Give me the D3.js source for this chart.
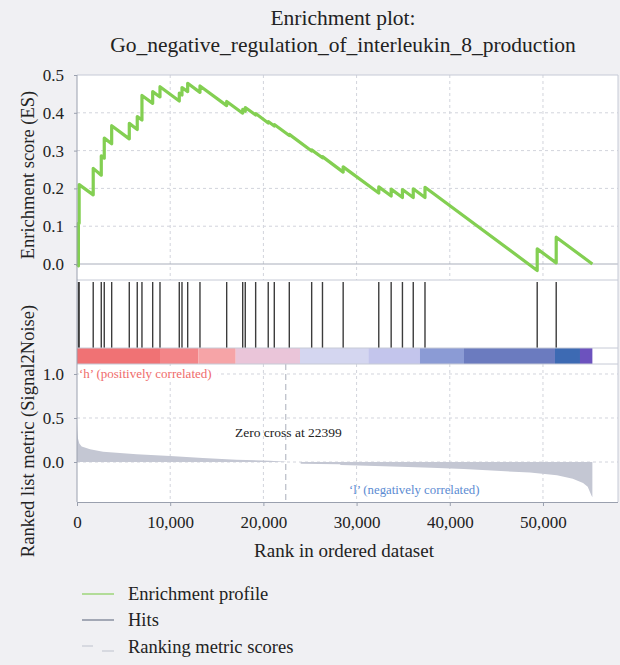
<!DOCTYPE html>
<html><head><meta charset="utf-8">
<script src="https://cdn.jsdelivr.net/npm/d3@7"></script>
<style>body{margin:0;background:#f0f0f3;} svg{display:block;}</style>
</head><body><svg id="c" width="620" height="665"></svg>
<script>
// ---------------- data ----------------
const titleLines = ["Enrichment plot:", "Go_negative_regulation_of_interleukin_8_production"];
const xTicks = [0, 10000, 20000, 30000, 40000, 50000];
const esTicks = [0.0, 0.1, 0.2, 0.3, 0.4, 0.5];
const metricTicks = [0.0, 0.5, 1.0];
const totalGenes = 55300;
const zeroCross = 22399;

const hitRanks = [150, 230, 1740, 2605, 2925, 3720, 5610, 6465, 6970, 8120, 8905, 10975, 11265, 11875, 13195,
  16060, 17780, 18055, 19170, 20520, 21170, 22780, 25180, 26340, 28560, 32380, 33710, 34920, 36080, 37340, 49380, 51420];

const esRanks = [0,150,150,230,230,1740,1740,2605,2605,2925,2925,3720,3720,5610,5610,6465,6465,6970,6970,8120,8120,
  8905,8905,10975,10975,11265,11265,11875,11875,13195,13195,16060,16060,17780,17780,18055,18055,19170,19170,
  20520,20520,21170,21170,22780,22780,25180,25180,26340,26340,28560,28560,32380,32380,33710,33710,34920,34920,
  36080,36080,37340,37340,49380,49380,51420,51420,55300];
const esValues = [0,-0.005,0.108,0.108,0.21,0.183,0.253,0.235,0.286,0.280,0.333,0.318,0.366,0.331,0.372,0.356,0.390,
  0.381,0.446,0.425,0.456,0.442,0.469,0.431,0.452,0.447,0.467,0.456,0.478,0.454,0.471,0.419,0.430,0.399,0.409,
  0.404,0.414,0.394,0.398,0.373,0.377,0.365,0.369,0.340,0.343,0.299,0.302,0.281,0.284,0.243,0.257,0.188,0.204,
  0.180,0.198,0.176,0.197,0.176,0.199,0.176,0.203,-0.017,0.040,0.003,0.071,0.0];

const metricRanks = [0, 40, 100, 250, 500, 1400, 2800, 6400, 10000, 13500, 17100, 20700, 22399, 22400, 24000,
  24001, 28200, 28300, 32000, 35500, 38000, 41500, 45000, 48600, 51500, 53200, 54300, 54800, 55200, 55300];
const metricValues = [0.46, 0.36, 0.27, 0.21, 0.175, 0.145, 0.117, 0.087, 0.068, 0.045, 0.025, 0.015, 0.004, 0, 0,
  -0.02, -0.025, -0.034, -0.045, -0.058, -0.065, -0.08, -0.1, -0.12, -0.15, -0.19, -0.24, -0.28, -0.38, -0.40];

const barStarts = [0, 8906, 13016, 17029, 23928, 31254, 36803, 41524, 51288, 53971];
const barColors = ["#f07274", "#f38588", "#f6a4a7", "#eac5d9", "#d4d6f0", "#c3c5ec", "#8b9bd5", "#6b7bbf", "#3d6ab3", "#6c52be"];

const legendItems = ["Enrichment profile", "Hits", "Ranking metric scores"];

// ---------------- layout ----------------
const svg = d3.select("#c");
const FONT = "'Liberation Serif', 'Times New Roman', serif";
const L = 77, R = 618;
const esTop = 75, esBot = 280, hitBot = 348, barBot = 364, rankBot = 502;
const axisCol = "#9aa0ae", gridCol = "#d2d4dc", borderCol = "#c6cad6";

const x = d3.scaleLinear().domain([0, 58050]).range([L, R]);
const yES = d3.scaleLinear().domain([-0.0423, 0.5]).range([esBot, esTop]);
const yM = d3.scaleLinear().domain([-0.4545, 1.1136]).range([rankBot, barBot]);

svg.append("rect").attr("width", 620).attr("height", 665).attr("fill", "#f0f0f3");
svg.append("rect").attr("x", L).attr("y", esTop).attr("width", R - L).attr("height", rankBot - esTop).attr("fill", "#fff");

// title
svg.append("g").selectAll("text").data(titleLines).join("text")
  .attr("x", 343).attr("y", (d, i) => 25 + i * 27)
  .attr("text-anchor", "middle").attr("font-family", FONT).attr("font-size", 21.5).attr("fill", "#222")
  .text(d => d);

// grids
const gridX = xTicks.filter(t => t > 0);
svg.append("g").selectAll("line").data(gridX).join("line")
  .attr("x1", d => x(d)).attr("x2", d => x(d)).attr("y1", esTop).attr("y2", esBot)
  .attr("stroke", gridCol).attr("stroke-dasharray", "3,3");
svg.append("g").selectAll("line").data(esTicks.filter(t => t > 0 && t < 0.5)).join("line")
  .attr("x1", L).attr("x2", R).attr("y1", d => yES(d)).attr("y2", d => yES(d))
  .attr("stroke", gridCol).attr("stroke-dasharray", "3,3");
svg.append("line").attr("x1", L).attr("x2", R).attr("y1", yES(0)).attr("y2", yES(0))
  .attr("stroke", "#a9aebb").attr("stroke-width", 1);

svg.append("g").selectAll("line").data(gridX).join("line")
  .attr("x1", d => x(d)).attr("x2", d => x(d)).attr("y1", barBot).attr("y2", rankBot)
  .attr("stroke", gridCol).attr("stroke-dasharray", "3,3");
svg.append("g").selectAll("line").data(metricTicks).join("line")
  .attr("x1", L).attr("x2", R).attr("y1", d => yM(d)).attr("y2", d => yM(d))
  .attr("stroke", gridCol).attr("stroke-dasharray", "3,3");

// ranked metric area
const mData = metricRanks.map((r, i) => [r, metricValues[i]]);
svg.append("path").datum(mData)
  .attr("d", d3.area().x(d => x(d[0])).y0(yM(0)).y1(d => yM(d[1])))
  .attr("fill", "#c4c7d3");

// zero cross line
svg.append("line").attr("x1", x(zeroCross)).attr("x2", x(zeroCross)).attr("y1", barBot).attr("y2", rankBot)
  .attr("stroke", "#b8bcc6").attr("stroke-width", 1.2).attr("stroke-dasharray", "6,4");
svg.append("text").attr("x", 235).attr("y", 437).attr("font-family", FONT).attr("font-size", 13.5)
  .attr("fill", "#222").text("Zero cross at " + zeroCross);

// labels h / l
const hLbl = svg.append("text").attr("x", 79).attr("y", 378).attr("font-family", FONT).attr("font-size", 13)
  .attr("fill", "#ef6b6b").text("\u2018h\u2019 (positively correlated)");
const hb = hLbl.node().getBBox();
svg.insert("rect", () => hLbl.node()).attr("x", hb.x).attr("y", hb.y).attr("width", hb.width + 6).attr("height", hb.height).attr("fill", "#fff");
svg.append("text").attr("x", 349).attr("y", 494).attr("font-family", FONT).attr("font-size", 12.8)
  .attr("fill", "#5b8bd2").text("\u2018l\u2019 (negatively correlated)");

// color bar
const segs = barStarts.map((s, i) => ({s, e: i < barStarts.length - 1 ? barStarts[i + 1] : totalGenes, c: barColors[i]}));
svg.append("g").selectAll("rect").data(segs).join("rect")
  .attr("x", d => x(d.s)).attr("width", d => x(d.e) - x(d.s)).attr("y", hitBot).attr("height", barBot - hitBot)
  .attr("fill", d => d.c);

// hits
svg.append("g").selectAll("line").data(hitRanks).join("line")
  .attr("x1", d => x(d)).attr("x2", d => x(d)).attr("y1", esBot + 2).attr("y2", hitBot)
  .attr("stroke", "#3c3c3c").attr("stroke-width", 1.4);

// ES line
const esData = esRanks.map((r, i) => [r, esValues[i]]);
svg.append("path").datum(esData)
  .attr("d", d3.line().x(d => x(d[0])).y(d => yES(d[1])))
  .attr("fill", "none").attr("stroke", "#83cf52").attr("stroke-width", 3.2).attr("stroke-linejoin", "round");

// borders
[esTop, esBot, hitBot, barBot].forEach(yv =>
  svg.append("line").attr("x1", L).attr("x2", R).attr("y1", yv).attr("y2", yv).attr("stroke", borderCol));
svg.append("line").attr("x1", R).attr("x2", R).attr("y1", esTop).attr("y2", rankBot).attr("stroke", borderCol);

// axes
const axStyle = g => {
  g.selectAll("path").attr("stroke", axisCol);
  g.selectAll("line").attr("stroke", axisCol);
  g.selectAll("text").attr("font-family", FONT).attr("font-size", 17).attr("fill", "#222");
};
svg.append("g").attr("transform", `translate(${L},0)`)
  .call(d3.axisLeft(yES).tickValues(esTicks).tickFormat(d3.format(".1f")).tickSizeInner(3).tickSizeOuter(0).tickPadding(10))
  .call(axStyle).call(g => g.select(".domain").remove());
svg.append("g").attr("transform", `translate(${L},0)`)
  .call(d3.axisLeft(yM).tickValues(metricTicks).tickFormat(d3.format(".1f")).tickSizeInner(3).tickSizeOuter(0).tickPadding(10))
  .call(axStyle).call(g => g.select(".domain").remove());
svg.append("line").attr("x1", L).attr("x2", L).attr("y1", esTop).attr("y2", rankBot).attr("stroke", axisCol);
svg.append("g").attr("transform", `translate(0,${rankBot})`)
  .call(d3.axisBottom(x).tickValues(xTicks).tickFormat(d3.format(",")).tickSizeInner(4).tickSizeOuter(0).tickPadding(10))
  .call(axStyle).call(g => g.select(".domain").attr("d", `M${L},0.5H${R}`));

// axis titles
svg.append("text").attr("transform", "translate(34,175) rotate(-90)").attr("text-anchor", "middle")
  .attr("font-family", FONT).attr("font-size", 18.5).attr("fill", "#222").text("Enrichment score (ES)");
svg.append("text").attr("transform", "translate(34,431) rotate(-90)").attr("text-anchor", "middle")
  .attr("font-family", FONT).attr("font-size", 18.5).attr("fill", "#222").text("Ranked list metric (Signal2Noise)");
svg.append("text").attr("x", 344).attr("y", 557).attr("text-anchor", "middle")
  .attr("font-family", FONT).attr("font-size", 19).attr("fill", "#222").text("Rank in ordered dataset");

// legend
const lg = svg.append("g");
const ly = [594, 620, 647];
lg.selectAll("text").data(legendItems).join("text")
  .attr("x", 128).attr("y", (d, i) => ly[i] + 6).attr("font-family", FONT).attr("font-size", 18.5).attr("fill", "#222").text(d => d);
lg.append("line").attr("x1", 82).attr("x2", 114).attr("y1", ly[0]).attr("y2", ly[0]).attr("stroke", "#9ed67a").attr("stroke-width", 1.5);
lg.append("line").attr("x1", 82).attr("x2", 114).attr("y1", ly[1]).attr("y2", ly[1]).attr("stroke", "#8a90a0").attr("stroke-width", 1.5);
lg.append("line").attr("x1", 82).attr("x2", 93).attr("y1", ly[2] - 1).attr("y2", ly[2] - 1).attr("stroke", "#cfd2da").attr("stroke-width", 1.5);
lg.append("line").attr("x1", 102).attr("x2", 114).attr("y1", ly[2] + 4).attr("y2", ly[2] + 4).attr("stroke", "#cfd2da").attr("stroke-width", 1.5);
</script></body></html>
